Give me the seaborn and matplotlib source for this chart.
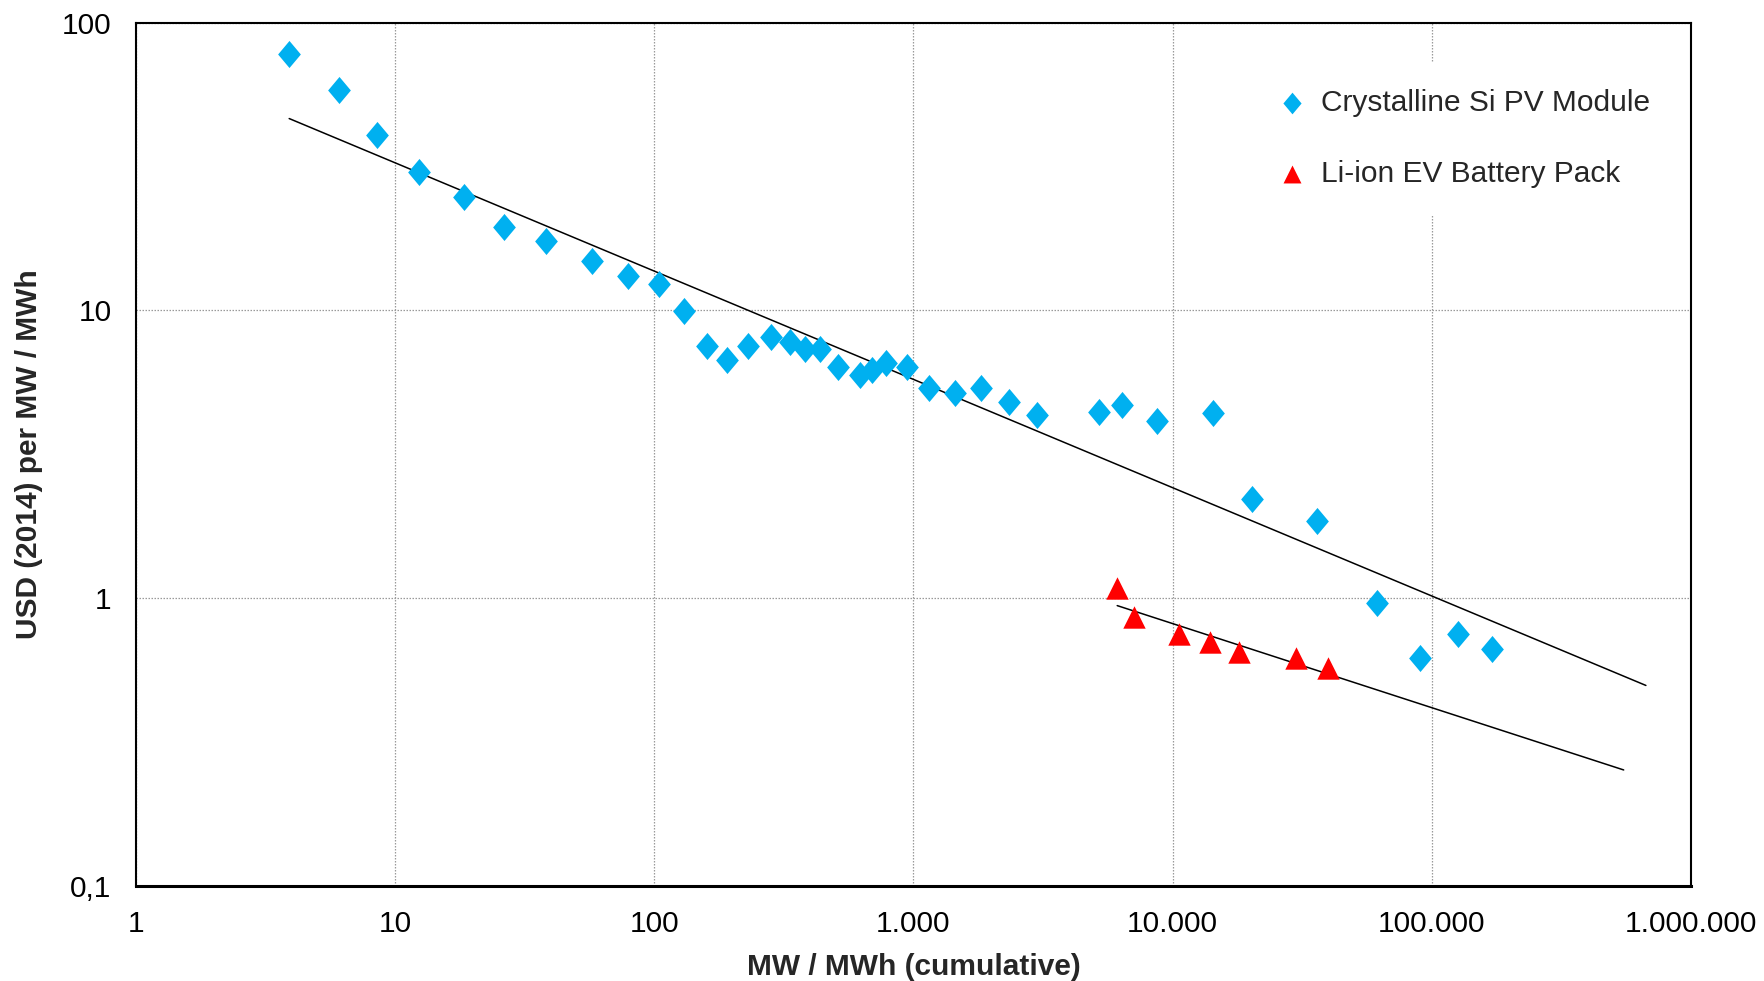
import numpy as np
import pandas as pd
import matplotlib
matplotlib.use("Agg")
import matplotlib.pyplot as plt
from matplotlib.ticker import FixedLocator, FuncFormatter, NullLocator
from matplotlib.path import Path
import seaborn as sns

# Cumulative deployment (MW for PV, MWh for batteries) and unit cost (USD 2014)
pv_cumulative = [3.9, 6.05, 8.5, 12.4, 18.5, 26.3, 38.1, 57.4, 79, 104.5,
                 130, 159, 190, 230, 281, 333, 383, 436, 512, 620,
                 691, 780, 943, 1151, 1449, 1824, 2342, 3007, 5212, 6365,
                 8675, 14300, 20300, 35900, 61500, 90000, 126500, 170700]
pv_cost = [77.7, 58.2, 40.6, 30.2, 24.8, 19.4, 17.4, 14.8, 13.2, 12.3,
           9.9, 7.48, 6.71, 7.48, 8.04, 7.75, 7.34, 7.34, 6.36, 5.97,
           6.19, 6.53, 6.36, 5.36, 5.17, 5.36, 4.81, 4.32, 4.44, 4.68,
           4.13, 4.40, 2.20, 1.85, 0.96, 0.617, 0.746, 0.664]

battery_cumulative = [6110, 7110, 10600, 13900, 18000, 30000, 39700]
battery_cost = [1.08, 0.861, 0.746, 0.700, 0.646, 0.617, 0.569]

# Power-law trend lines are extrapolated forward to these cumulative volumes
pv_trend_end = 6.7e5
battery_trend_end = 5.5e5

series_names = ["Crystalline Si PV Module", "Li-ion EV Battery Pack"]
x_ticks = [1, 10, 100, 1000, 10000, 100000, 1000000]
y_ticks = [0.1, 1, 10, 100]
x_label = "MW / MWh (cumulative)"
y_label = "USD (2014) per MW / MWh"

PV_BLUE = "#00B0F0"
BATTERY_RED = "#FF0000"

sns.set_style("white")
plt.rcParams["font.family"] = ["Liberation Sans", "DejaVu Sans"]


def power_trend(x, y, x_end, n=50):
    """Least-squares fit of log10(y) on log10(x), evaluated from first x to x_end."""
    lx, ly = np.log10(x), np.log10(y)
    slope, intercept = np.polyfit(lx, ly, 1)
    xs = np.logspace(lx[0], np.log10(x_end), n)
    return pd.DataFrame({"x": xs, "y": 10 ** (intercept + slope * np.log10(xs))})


pv_df = pd.DataFrame({"x": pv_cumulative, "y": pv_cost})
bat_df = pd.DataFrame({"x": battery_cumulative, "y": battery_cost})

fig = plt.figure(figsize=(17.64, 9.81), dpi=100)
ax = fig.add_axes([0.0771, 0.0973, 0.8815, 0.8797])
ax.set_xscale("log")
ax.set_yscale("log")

# Slightly tall diamond marker
diamond = Path([(0, 1), (0.84, 0), (0, -1), (-0.84, 0), (0, 1)],
               [Path.MOVETO, Path.LINETO, Path.LINETO, Path.LINETO, Path.CLOSEPOLY])

sns.lineplot(data=power_trend(pv_cumulative, pv_cost, pv_trend_end), x="x", y="y",
             ax=ax, color="black", linewidth=1.1, legend=False, zorder=2)
sns.lineplot(data=power_trend(battery_cumulative, battery_cost, battery_trend_end),
             x="x", y="y", ax=ax, color="black", linewidth=1.1, legend=False, zorder=2)

sns.scatterplot(data=pv_df, x="x", y="y", ax=ax, marker=diamond, s=380,
                color=PV_BLUE, linewidth=0, label=series_names[0], zorder=3)
sns.scatterplot(data=bat_df, x="x", y="y", ax=ax, marker="^", s=260,
                color=BATTERY_RED, linewidth=0, label=series_names[1], zorder=3)

ax.set_xlim(1, 1e6)
ax.set_ylim(0.1, 100)


def x_fmt(v, pos):
    return f"{int(round(v)):,}".replace(",", ".")


def y_fmt(v, pos):
    if v < 1:
        return f"{v:g}".replace(".", ",")
    return f"{int(round(v))}"


ax.xaxis.set_major_locator(FixedLocator(x_ticks))
ax.yaxis.set_major_locator(FixedLocator(y_ticks))
ax.xaxis.set_minor_locator(NullLocator())
ax.yaxis.set_minor_locator(NullLocator())
ax.xaxis.set_major_formatter(FuncFormatter(x_fmt))
ax.yaxis.set_major_formatter(FuncFormatter(y_fmt))

ax.tick_params(axis="both", which="major", direction="out", length=6.5, width=1.2,
               color="black", labelsize=21.5, labelcolor="black")
ax.tick_params(axis="y", pad=11)
ax.tick_params(axis="x", pad=11)

ax.grid(True, which="major", color="#9a9a9a", linestyle=(0, (1.2, 1.2)), linewidth=0.9)
ax.set_axisbelow(True)

for side in ["top", "right", "left"]:
    ax.spines[side].set_color("black")
    ax.spines[side].set_linewidth(1.5)
ax.spines["bottom"].set_color("black")
ax.spines["bottom"].set_linewidth(2.2)

ax.set_xlabel(x_label, fontsize=21.5, fontweight="bold", labelpad=11)
ax.set_ylabel(y_label, fontsize=21.5, fontweight="bold", labelpad=14)

leg = ax.legend(loc="upper left", bbox_to_anchor=(0.709, 0.972), frameon=True,
                facecolor="white", edgecolor="none", framealpha=1, fancybox=False,
                fontsize=21.5, markerscale=0.8, handlelength=0.8, handletextpad=0.55,
                labelspacing=1.45, borderpad=0.9)

fig.savefig("out.png", dpi=100)
